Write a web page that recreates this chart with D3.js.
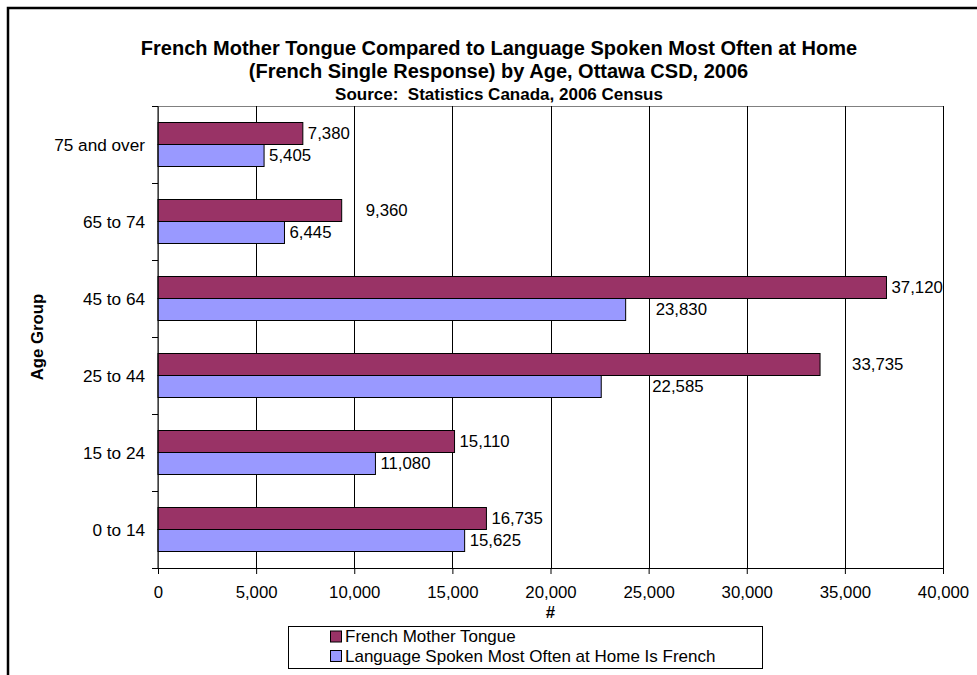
<!DOCTYPE html>
<html>
<head>
<meta charset="utf-8">
<script src="https://cdn.jsdelivr.net/npm/d3@7/dist/d3.min.js"></script>
<style>
  html, body { margin: 0; padding: 0; background: #fff; }
  svg { display: block; font-family: Arial, "Liberation Sans", sans-serif; }
  text { white-space: pre; }
</style>
</head>
<body>
<svg id="chart" width="977" height="675"></svg>
<script>
// Age groups, listed top to bottom as drawn
const ageGroups = ["75 and over", "65 to 74", "45 to 64", "25 to 44", "15 to 24", "0 to 14"];
const seriesNames = ["French Mother Tongue", "Language Spoken Most Often at Home Is French"];
const motherTongue = [7380, 9360, 37120, 33735, 15110, 16735];
const spokenAtHome = [5405, 6445, 23830, 22585, 11080, 15625];
const xTicks = [0, 5000, 10000, 15000, 20000, 25000, 30000, 35000, 40000];
const titleLines = [
  "French Mother Tongue Compared to Language Spoken Most Often at Home",
  "(French Single Response) by Age, Ottawa CSD, 2006"
];
const sourceLine = "Source:  Statistics Canada, 2006 Census";

// Extra horizontal nudge (px) for value labels that sit away from their bar ends
const labelNudgeMother = [0, 19, 0, 27, 0, 0];
const labelNudgeHome = [0, 0, 25, 46, 0, 0];

const colors = ["#993366", "#9999FF"];
const fmt = d3.format(",");
const baseFont = 16.8;

const svg = d3.select("#chart");
const margin = { left: 158, right: 943, top: 106, bottom: 568 };

// Outer chart frame (only top and left edges fall inside the view)
svg.append("rect")
  .attr("x", 8).attr("y", 8)
  .attr("width", 1000).attr("height", 700)
  .attr("fill", "none").attr("stroke", "#000").attr("stroke-width", 2.5);

const x = d3.scaleLinear().domain([0, 40000]).range([margin.left, margin.right]);
const y0 = d3.scaleBand().domain(ageGroups).range([margin.top, margin.bottom]).padding(0);
const y1 = d3.scaleBand().domain(seriesNames).range([0, y0.bandwidth()])
  .paddingInner(0).paddingOuter(0.75);

// Plot area border
svg.append("rect")
  .attr("x", margin.left).attr("y", margin.top)
  .attr("width", margin.right - margin.left).attr("height", margin.bottom - margin.top)
  .attr("fill", "none").attr("stroke", "#808080").attr("stroke-width", 1)
  .attr("shape-rendering", "crispEdges");

// Vertical gridlines
svg.append("g").selectAll("line").data(xTicks.slice(1))
  .join("line")
  .attr("x1", d => Math.round(x(d)) + 0.5).attr("x2", d => Math.round(x(d)) + 0.5)
  .attr("y1", margin.top).attr("y2", margin.bottom)
  .attr("stroke", "#000").attr("stroke-width", 1);

// Bars
const rows = ageGroups.map((g, i) => ({
  group: g,
  values: [
    { s: seriesNames[0], v: motherTongue[i], nudge: labelNudgeMother[i], c: colors[0] },
    { s: seriesNames[1], v: spokenAtHome[i], nudge: labelNudgeHome[i], c: colors[1] }
  ]
}));

const groups = svg.append("g").selectAll("g").data(rows).join("g")
  .attr("transform", d => `translate(0,${y0(d.group)})`);

groups.selectAll("rect").data(d => d.values).join("rect")
  .attr("x", x(0))
  .attr("y", d => y1(d.s))
  .attr("width", d => x(d.v) - x(0))
  .attr("height", y1.bandwidth())
  .attr("fill", d => d.c)
  .attr("stroke", "#000").attr("stroke-width", 1);

groups.selectAll("text").data(d => d.values).join("text")
  .attr("x", d => x(d.v) + 5 + d.nudge)
  .attr("y", d => y1(d.s) + y1.bandwidth() / 2)
  .attr("dy", "0.35em")
  .attr("font-size", baseFont)
  .attr("fill", "#000")
  .text(d => fmt(d.v));

// X axis
const xAxis = svg.append("g")
  .attr("transform", `translate(0,${margin.bottom})`)
  .call(d3.axisBottom(x).tickValues(xTicks).tickFormat(fmt).tickSizeInner(6).tickSizeOuter(0).tickPadding(12));
xAxis.attr("font-family", null).attr("font-size", null);
xAxis.select(".domain").attr("stroke", "#000");
xAxis.selectAll("text").attr("font-size", baseFont).attr("fill", "#000");

// Y axis: ticks at band boundaries, labels at band centres
const yAxisG = svg.append("g");
yAxisG.append("line")
  .attr("x1", margin.left).attr("x2", margin.left)
  .attr("y1", margin.top).attr("y2", margin.bottom)
  .attr("stroke", "#000");
const bounds = ageGroups.map(g => y0(g)).concat([margin.bottom]);
yAxisG.selectAll("line.tick").data(bounds).join("line")
  .attr("class", "tick")
  .attr("x1", margin.left - 6).attr("x2", margin.left)
  .attr("y1", d => Math.round(d) + 0.5).attr("y2", d => Math.round(d) + 0.5)
  .attr("stroke", "#000");
yAxisG.selectAll("text").data(ageGroups).join("text")
  .attr("x", 145)
  .attr("y", d => y0(d) + y0.bandwidth() / 2)
  .attr("dy", "0.35em")
  .attr("text-anchor", "end")
  .attr("font-size", 17.2)
  .text(d => d);

// Axis titles
svg.append("text")
  .attr("x", (margin.left + margin.right) / 2).attr("y", 612)
  .attr("dy", "0.35em")
  .attr("text-anchor", "middle")
  .attr("font-size", baseFont).attr("font-weight", "bold")
  .text("#");
svg.append("text")
  .attr("transform", "translate(37,337) rotate(-90)")
  .attr("dy", "0.35em")
  .attr("text-anchor", "middle")
  .attr("font-size", baseFont).attr("font-weight", "bold")
  .text("Age Group");

// Titles
svg.append("text").attr("x", 499).attr("y", 55)
  .attr("text-anchor", "middle").attr("font-size", 20).attr("font-weight", "bold")
  .text(titleLines[0]);
svg.append("text").attr("x", 498.5).attr("y", 78)
  .attr("text-anchor", "middle").attr("font-size", 20).attr("font-weight", "bold")
  .text(titleLines[1]);
svg.append("text").attr("x", 499).attr("y", 100)
  .attr("text-anchor", "middle").attr("font-size", 17).attr("font-weight", "bold")
  .text(sourceLine);

// Legend
const legend = svg.append("g");
legend.append("rect")
  .attr("x", 288.5).attr("y", 626.5).attr("width", 474).attr("height", 42)
  .attr("fill", "#fff").attr("stroke", "#000").attr("stroke-width", 1);
seriesNames.forEach((name, i) => {
  const cy = 636.5 + i * 19.5;
  legend.append("rect")
    .attr("x", 330.5).attr("y", cy - 5.5).attr("width", 11).attr("height", 11)
    .attr("fill", colors[i]).attr("stroke", "#000").attr("stroke-width", 1);
  legend.append("text")
    .attr("x", 345).attr("y", cy).attr("dy", "0.35em")
    .attr("font-size", 17)
    .text(name);
});
</script>
</body>
</html>
